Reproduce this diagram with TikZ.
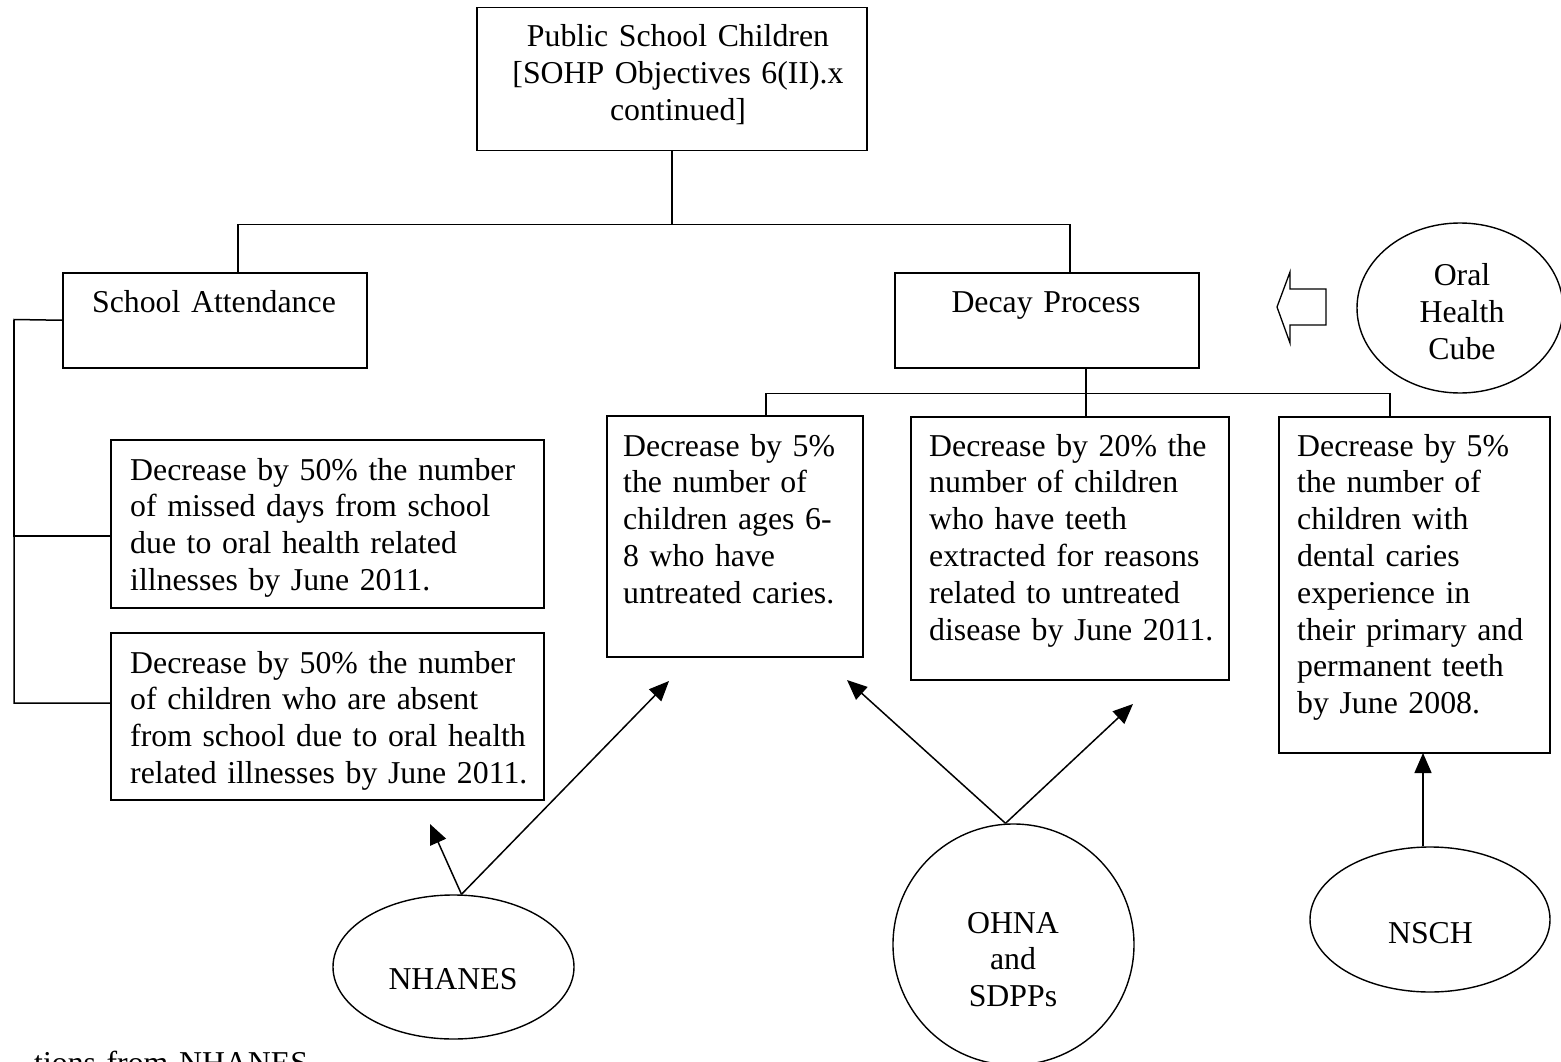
\documentclass[tikz,border=0pt]{standalone}
\usepackage{fontspec}
\setmainfont{Liberation Serif}
\usetikzlibrary{shapes.geometric,arrows.meta,calc}
\setlength{\parindent}{0pt}
\begin{document}
\begin{tikzpicture}[x=1pt,y=-1pt,
  box/.style={draw, line width=1.5pt, inner sep=0pt, anchor=north west},
  oval/.style={draw, ellipse, line width=1.4pt, inner sep=0pt},
  txt/.style={inner sep=0pt, font=\fontsize{31.8}{36.8}\selectfont,
    text width=#1, align=left, anchor=base west},
  txt/.default=450pt,
  ctxt/.style={inner sep=0pt, font=\fontsize{31.8}{36.8}\selectfont,
    text width=#1, align=center, anchor=base},
  ctxt/.default=400pt,
  link/.style={line width=1.5pt},
  ray/.style={line width=1.5pt, -{Triangle[length=20pt,width=17pt]}},
]
\useasboundingbox (0,0) rectangle (1561,1062);
\clip (0,0) rectangle (1561,1062);
\fill[white] (0,0) rectangle (1561,1062);

% boxes
\node[box, minimum width=390pt, minimum height=143pt] (pub) at (476,7) {};
\node[box, minimum width=304pt, minimum height=95pt]  (att) at (62,272) {};
\node[box, minimum width=304pt, minimum height=95pt]  (dec) at (894,272) {};
\node[box, minimum width=433pt, minimum height=168pt] (g1)  at (110,439) {};
\node[box, minimum width=433pt, minimum height=167pt] (g2)  at (110,632) {};
\node[box, minimum width=256pt, minimum height=241pt] (g3)  at (606,415) {};
\node[box, minimum width=318pt, minimum height=263pt] (g4)  at (910,416) {};
\node[box, minimum width=271pt, minimum height=336pt] (g5)  at (1278,416) {};

% ovals
\node[oval, minimum width=241pt, minimum height=144pt] (nh)  at (453.5,967) {};
\node[oval, minimum width=241pt, minimum height=241pt] (oh)  at (1013.5,944.5) {};
\node[oval, minimum width=240pt, minimum height=145pt] (ns)  at (1430,919.5) {};
\node[oval, minimum width=206pt, minimum height=170pt] (ohc) at (1460,308) {};

% texts
\node[ctxt] (pubt) at (678,47) {Public School Children\\{}[SOHP Objectives 6(II).x\\continued]};
\node[ctxt] (attt) at (214,312) {School Attendance};
\node[ctxt] (dect) at (1046,312) {Decay Process};
\node[txt] (g1t) at (130,480) {Decrease by 50\% the number\\of missed days from school\\due to oral health related\\illnesses by June 2011.};
\node[txt] (g2t) at (130,673) {Decrease by 50\% the number\\of children who are absent\\from school due to oral health\\related illnesses by June 2011.};
\node[txt] (g3t) at (623,456) {Decrease by 5\%\\the number of\\children ages 6-\\8 who have\\untreated caries.};
\node[txt] (g4t) at (929,456) {Decrease by 20\% the\\number of children\\who have teeth\\extracted for reasons\\related to untreated\\disease by June 2011.};
\node[txt] (g5t) at (1297,456) {Decrease by 5\%\\the number of\\children with\\dental caries\\experience in\\their primary and\\permanent teeth\\by June 2008.};
\node[ctxt] (nht) at (453,989) {NHANES};
\node[ctxt] (oht) at (1013,933) {OHNA\\and\\SDPPs};
\node[ctxt] (nst) at (1430.5,943) {NSCH};
\node[ctxt] (ohct) at (1462,285.5) {Oral\\Health\\Cube};
\node[txt] (foot) at (34,1073) {tions from NHANES};

% tree connectors
\draw[link] (pub.south) -- ++(0,73) coordinate (j0);
\draw[link] ($(att.north west)+(176,0)$) |- (j0) -| ($(dec.north west)+(176,0)$);
\coordinate (sp) at (14,319.5);
\draw[link] (att.west) -- (sp) |- ($(g2.north west)+(0,71)$);
\draw[link] ($(g1.north west)+(0,97)$) -| (sp);
\draw[link] ($(dec.south west)+(192,0)$) -- ++(0,25) coordinate (j1);
\draw[link] ($(g3.north west)+(160,0)$) |- (j1) -| ($(g5.north west)+(112,0)$);
\draw[link] (j1) -- (j1 |- g4.north);

% hollow arrow from the cube
\draw[line width=1.3pt, line join=miter] (1277,307) -- (1290,272) -- (1290,289) -- (1326,289)
  -- (1326,325) -- (1290,325) -- (1290,343) -- cycle;

% data source arrows
\coordinate (t1) at (430,824);
\coordinate (t2) at (669,681);
\coordinate (t3) at (847,680);
\coordinate (t4) at (1133,704);
\coordinate (t5) at (1423,753);
\draw[ray] ($(nh.north)+(8,0)$) -- (t1);
\draw[ray] ($(nh.north)+(8,0)$) -- (t2);
\draw[ray] ($(oh.north)+(-8,0)$) -- (t3);
\draw[ray] ($(oh.north)+(-8,0)$) -- (t4);
\draw[ray] ($(ns.north)+(-7,0)$) -- (t5);
\end{tikzpicture}
\end{document}
